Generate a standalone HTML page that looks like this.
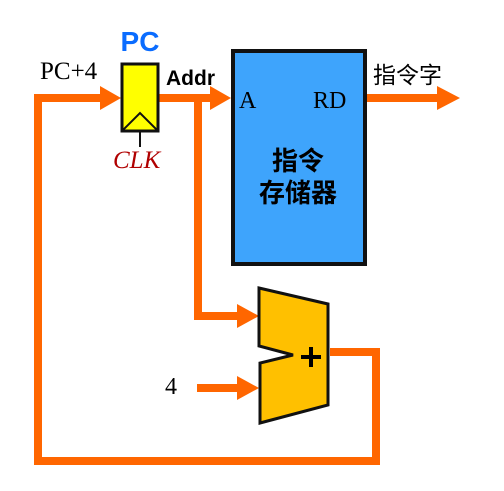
<!DOCTYPE html>
<html><head><meta charset="utf-8">
<style>
html,body{margin:0;padding:0;background:#fff;width:504px;height:491px;overflow:hidden}
svg{display:block}
</style></head><body>
<svg width="504" height="491" viewBox="0 0 504 491" xmlns="http://www.w3.org/2000/svg">
<g stroke="#ff6600" stroke-width="8" fill="none" stroke-linejoin="miter">
  <polyline points="38,98 38,461 376,461 376,352 330,352"/>
  <line x1="34" y1="98" x2="102" y2="98"/>
  <line x1="159" y1="98" x2="212" y2="98"/>
  <polyline points="198,98 198,316 240,316"/>
  <line x1="197" y1="388" x2="240" y2="388"/>
  <line x1="366" y1="98" x2="440" y2="98"/>
</g>
<g fill="#ff6600">
  <polygon points="100,86 121,98 100,110"/>
  <polygon points="210,86 231,98 210,110"/>
  <polygon points="237,304 259,316 237,328"/>
  <polygon points="237,376 259,388 237,400"/>
  <polygon points="437,86 460,98 437,110"/>
</g>
<rect x="122" y="64" width="36" height="67" fill="#ffff00" stroke="#111" stroke-width="3"/>
<polyline points="123,130 140,113 157,130" fill="none" stroke="#111" stroke-width="2"/>
<line x1="140" y1="131" x2="140" y2="147" stroke="#111" stroke-width="2"/>
<text x="140" y="51" text-anchor="middle" font-family="Liberation Sans, sans-serif" font-weight="bold" font-size="28" fill="#0a6cff">PC</text>
<text x="40" y="79" font-family="Liberation Serif, serif" font-size="25" fill="#000">PC+4</text>
<text x="166" y="85" font-family="Liberation Sans, sans-serif" font-weight="bold" font-size="21" fill="#000">Addr</text>
<text x="113" y="168" font-family="Liberation Serif, serif" font-style="italic" font-size="25" fill="#b00000">CLK</text>
<rect x="233" y="51" width="132" height="213" fill="#3ea4fc" stroke="#111" stroke-width="4"/>
<text x="239" y="108" font-family="Liberation Serif, serif" font-size="24" fill="#000">A</text>
<text x="313" y="108" font-family="Liberation Serif, serif" font-size="24" fill="#000">RD</text>
<text x="298" y="170" text-anchor="middle" font-family="Liberation Sans, 'Noto Sans CJK SC', sans-serif" font-weight="bold" font-size="26" fill="#000">指令</text>
<text x="298" y="202" text-anchor="middle" font-family="Liberation Sans, 'Noto Sans CJK SC', sans-serif" font-weight="bold" font-size="26" fill="#000">存储器</text>
<text x="373" y="83" font-family="Liberation Sans, 'Noto Sans CJK SC', sans-serif" font-size="23" fill="#000">指令字</text>
<polygon points="259,288 328,304 328,405 260,423 260,363 293,355 259,346" fill="#ffc000" stroke="#111" stroke-width="3" stroke-linejoin="miter"/>
<line x1="301" y1="357" x2="321" y2="357" stroke="#000" stroke-width="4"/>
<line x1="311" y1="347" x2="311" y2="367" stroke="#000" stroke-width="4"/>
<text x="165" y="394" font-family="Liberation Serif, serif" font-size="24" fill="#000">4</text>
</svg>
</body></html>
